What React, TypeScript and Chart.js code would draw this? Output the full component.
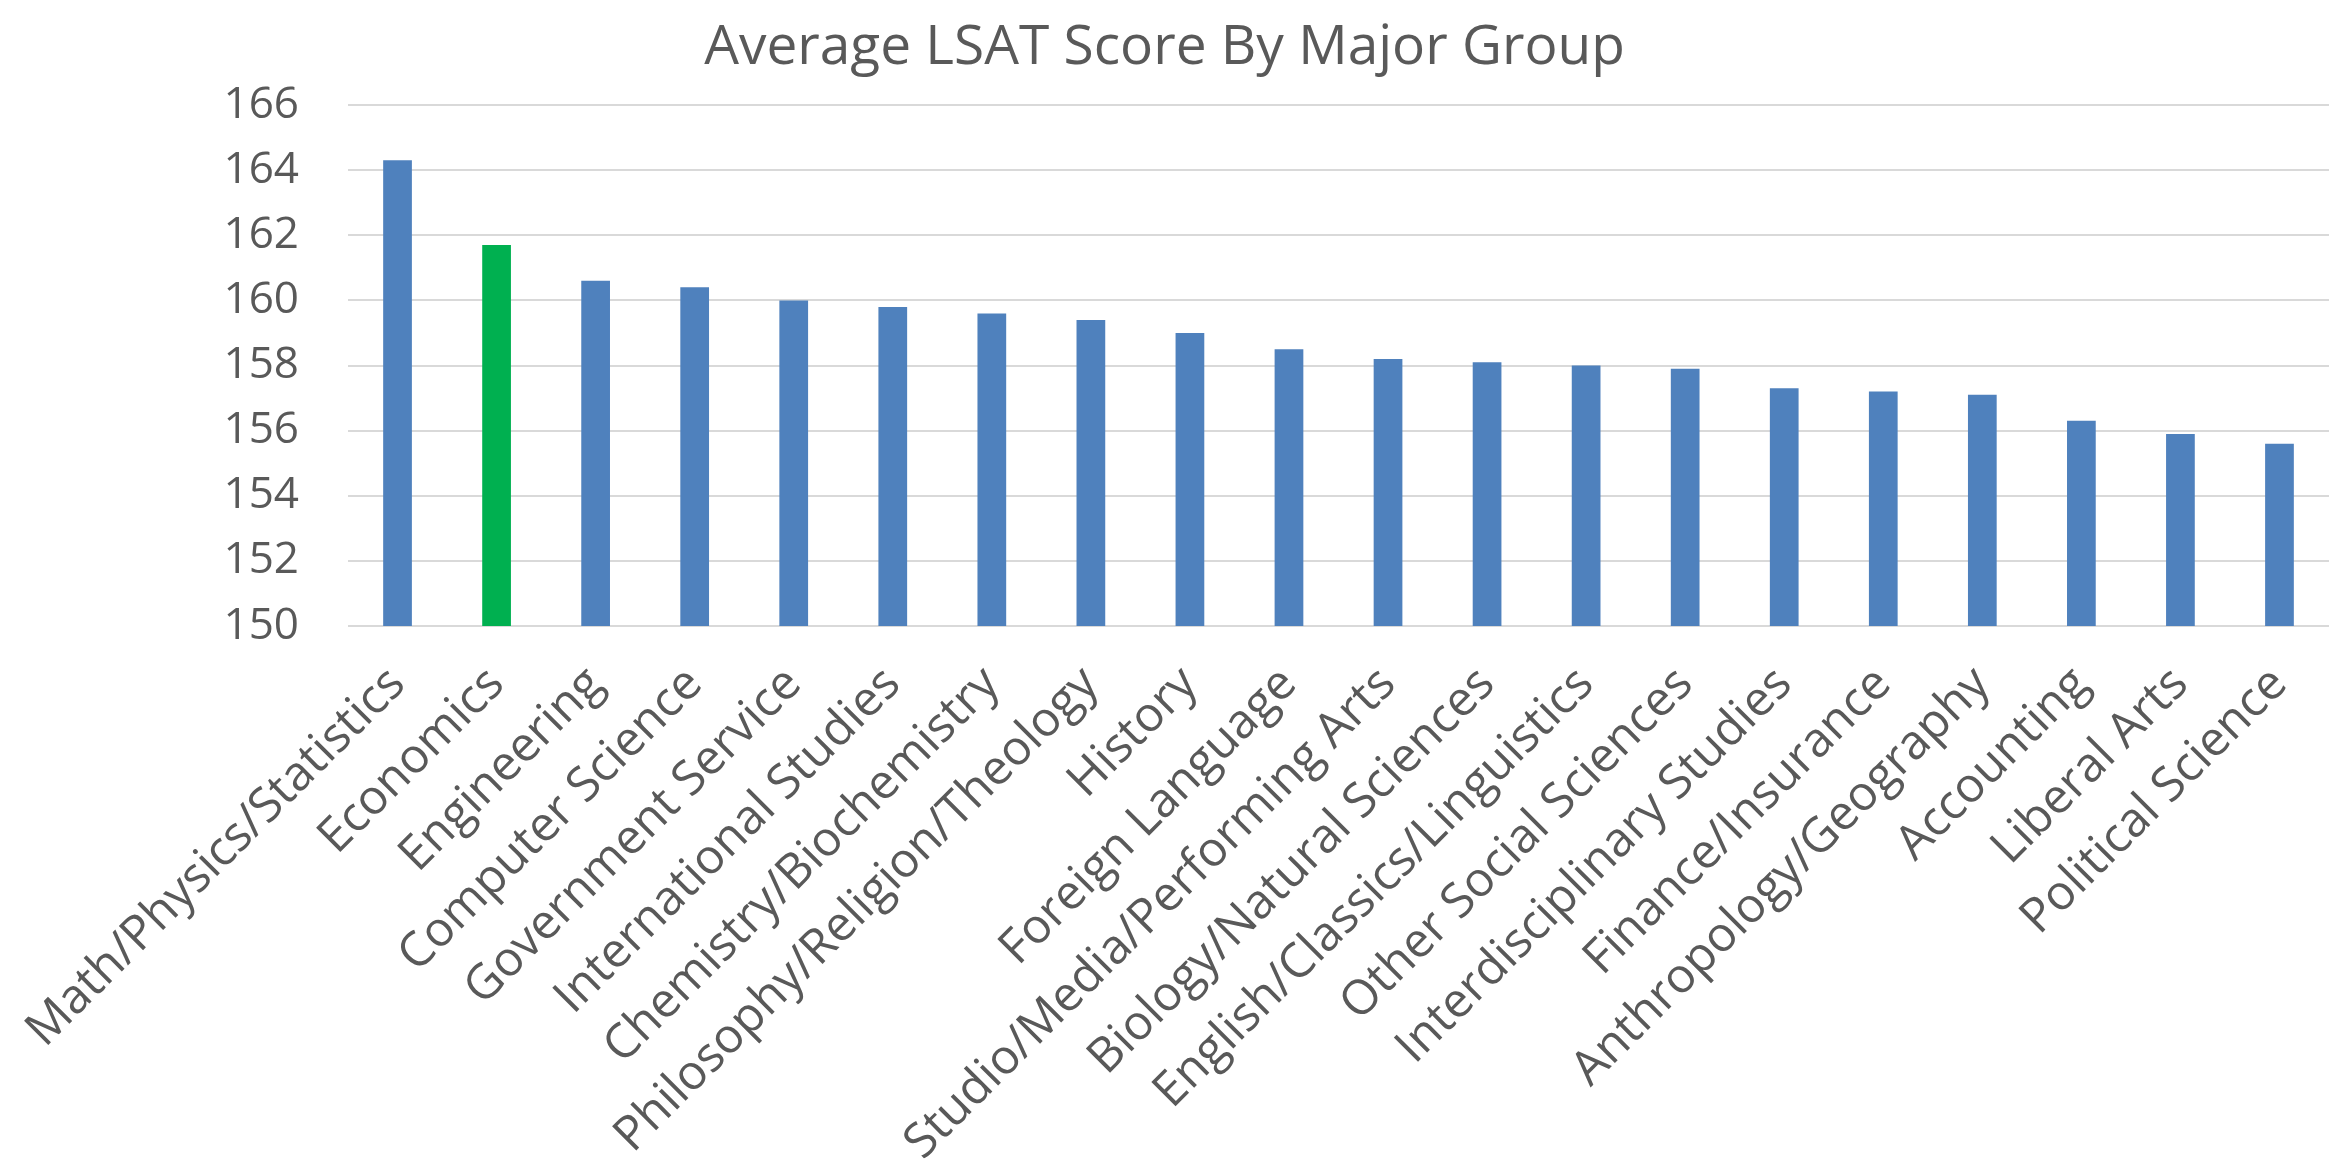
import React, { useEffect, useRef } from "react";
import { Chart, registerables } from "chart.js";

Chart.register(...registerables);

const TITLE = "Average LSAT Score By Major Group";

const categories = [
  "Math/Physics/Statistics",
  "Economics",
  "Engineering",
  "Computer Science",
  "Government Service",
  "International Studies",
  "Chemistry/Biochemistry",
  "Philosophy/Religion/Theology",
  "History",
  "Foreign Language",
  "Studio/Media/Performing Arts",
  "Biology/Natural Sciences",
  "English/Classics/Linguistics",
  "Other Social Sciences",
  "Interdisciplinary Studies",
  "Finance/Insurance",
  "Anthropology/Geography",
  "Accounting",
  "Liberal Arts",
  "Political Science",
];

const scores = [
  164.3, 161.7, 160.6, 160.4, 160.0, 159.8, 159.6, 159.4, 159.0, 158.5,
  158.2, 158.1, 158.0, 157.9, 157.3, 157.2, 157.1, 156.3, 155.9, 155.6,
];

const highlighted = ["Economics"];

const Y_MIN = 150;
const Y_MAX = 166;
const Y_STEP = 2;

const BLUE = "#4F81BD";
const GREEN = "#00B050";
const TEXT = "#595959";
const GRID = "#D9D9D9";
const FONT = "'Open Sans', 'Noto Sans', sans-serif";

export default function App() {
  const ref = useRef<HTMLCanvasElement>(null);

  useEffect(() => {
    document.body.style.margin = "0";
    const barColors = categories.map((c) => (highlighted.includes(c) ? GREEN : BLUE));
    const chart = new Chart(ref.current!, {
      type: "bar",
      data: {
        labels: categories,
        datasets: [
          {
            data: scores,
            backgroundColor: barColors,
            borderWidth: 0,
            barPercentage: 0.29,
            categoryPercentage: 1,
          },
        ],
      },
      options: {
        animation: false,
        responsive: false,
        layout: { padding: { left: 0, right: 15, top: 0, bottom: 0 } },
        plugins: {
          legend: { display: false },
          tooltip: { enabled: false },
          title: {
            display: true,
            text: TITLE,
            color: TEXT,
            font: { family: FONT, size: 55, weight: "normal" },
            padding: { top: 15, bottom: 24 },
          },
        },
        scales: {
          x: {
            grid: { display: false },
            border: { display: false },
            ticks: {
              autoSkip: false,
              maxRotation: 45,
              minRotation: 45,
              color: TEXT,
              font: { family: FONT, size: 48 },
              padding: 22,
            },
            afterFit: (s: any) => {
              s.height = 536;
            },
          },
          y: {
            min: Y_MIN,
            max: Y_MAX,
            ticks: {
              stepSize: Y_STEP,
              color: TEXT,
              font: { family: FONT, size: 44 },
              padding: 49,
            },
            grid: { color: GRID, lineWidth: 2, drawTicks: false },
            border: { display: false },
            afterFit: (s: any) => {
              s.width = 348;
            },
          },
        },
      },
    });
    return () => chart.destroy();
  }, []);

  return <canvas ref={ref} width={2344} height={1162} style={{ display: "block" }} />;
}
